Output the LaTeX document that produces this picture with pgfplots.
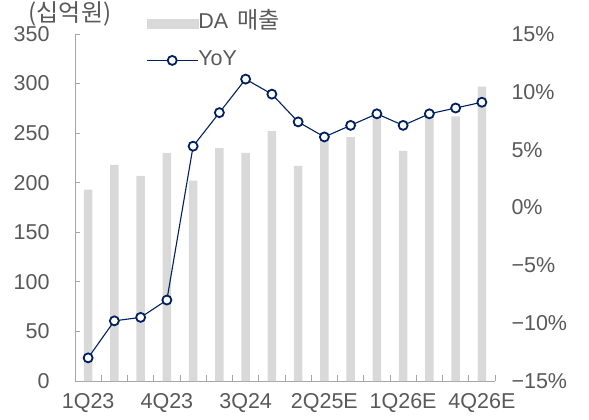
\documentclass[border=0pt]{standalone}
\usepackage{pgfplots}
\pgfplotsset{compat=1.18}
\usepackage{fontspec}
\setmainfont{Liberation Sans}
\newfontfamily\cjk{Noto Sans CJK KR}
\definecolor{barcol}{HTML}{D9D9D9}
\definecolor{linecol}{HTML}{002060}
\definecolor{txt}{HTML}{595959}
\definecolor{axcol}{HTML}{A6A6A6}
\pgfplotsset{
  mylinelegend/.style={legend image code/.code={\draw[mark repeat=2,mark phase=2,##1] plot coordinates {(0bp,0bp) (25.5bp,0bp) (51bp,0bp)};}},
}
\pgfplotstableread{
x rev yoy
0 193 -13.0
1 218 -9.8
2 207 -9.5
3 230 -8.0
4 202 5.3
5 235 8.2
6 230 11.1
7 252 9.8
8 217 7.4
9 242 6.1
10 246 7.1
11 265 8.1
12 232 7.1
13 266 8.1
14 267 8.6
15 297 9.1
}\datatable
\begin{document}
\begin{tikzpicture}
\path[use as bounding box] (-75bp,-39bp) rectangle (514bp,381bp);
\begin{axis}[
 scale only axis, width=420bp, height=347bp,
 xmin=-0.5, xmax=15.5, ymin=0, ymax=350,
 ytick={0,50,...,350},
 xtick={0,3,6,9,12,15},
 xticklabels={1Q23,4Q23,3Q24,2Q25E,1Q26E,4Q26E},
 minor xtick={-0.5,0.5,...,15.5},
 axis x line*=bottom, axis y line*=left,
 axis line style={axcol, line width=0.8bp, -},
 tick align=inside,
 major tick length=5bp, minor tick length=6bp,
 major x tick style={draw=none},
 minor x tick style={axcol, line width=0.8bp},
 major y tick style={axcol, line width=0.8bp},
 tick label style={font=\fontsize{21.5bp}{25bp}\selectfont, text=txt},
 yticklabel style={xshift=-22bp},
 xticklabel style={yshift=-9bp},
 /pgf/number format/assume math mode=true,
 clip=false,
]
\addplot[ybar, bar width=8.5bp, fill=barcol, draw=none] table[x=x, y=rev] {\datatable};
\node[font={\cjk\fontsize{24bp}{28bp}\selectfont}, text=txt] at (rel axis cs:-0.012,1.058) {(십억원)};
\end{axis}
\begin{axis}[
 scale only axis, width=420bp, height=347bp,
 xmin=-0.5, xmax=15.5, ymin=-15, ymax=15,
 hide x axis,
 axis y line*=right,
 y axis line style={draw=none},
 ytick={-15,-10,...,15},
 yticklabels={−15\%,−10\%,−5\%,0\%,5\%,10\%,15\%},
 major tick length=0pt,
 tick label style={font=\fontsize{21.5bp}{25bp}\selectfont, text=txt},
 yticklabel style={xshift=13bp},
 clip=false,
 legend style={at={(rel axis cs:0.169,1.057)}, anchor=north west, draw=none, fill=none, inner sep=0pt,
   font=\fontsize{21.5bp}{25bp}\selectfont, text=txt, row sep=19bp,
   nodes={inner sep=0pt, text height=14bp, text depth=4bp},
   /tikz/every even column/.append style={column sep=7bp}},
 legend cell align=left,
]
\addlegendimage{legend image code/.code={\fill[barcol] (0bp,-4.5bp) rectangle (51bp,4.5bp);}}
\addlegendentry{DA\hspace{3bp} {\cjk\fontsize{23bp}{27bp}\selectfont 매출}}
\addplot[linecol, line width=1.1bp, mark=*, mark size=4.5bp, mark options={fill=white, draw=linecol, line width=1.8bp}, mylinelegend]
  table[x=x, y=yoy] {\datatable};
\addlegendentry{YoY}
\end{axis}
\end{tikzpicture}
\end{document}
